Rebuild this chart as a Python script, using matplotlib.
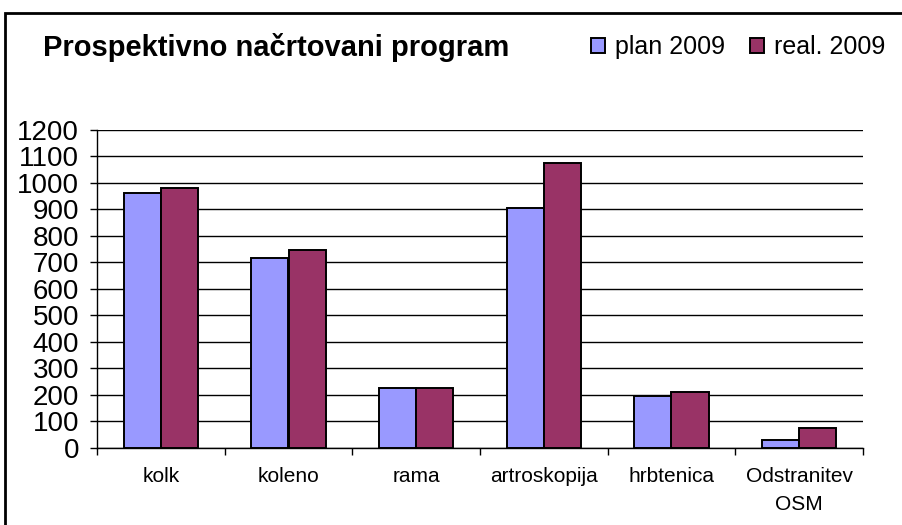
import matplotlib.pyplot as plt
import numpy as np
from matplotlib.patches import Rectangle

# Daten
categories = ["kolk", "koleno", "rama", "artroskopija", "hrbtenica", "Odstranitev\nOSM"]
plan_2009 = [960, 716, 225, 905, 196, 30]
real_2009 = [980, 747, 225, 1072, 210, 74]

plt.rcParams['font.family'] = ['Liberation Sans', 'DejaVu Sans']

fig = plt.figure(figsize=(9.02, 5.25), dpi=100)
ax = fig.add_axes([97 / 902, 1 - 448 / 525, (863 - 97) / 902, (448 - 129.5) / 525])

x = np.arange(len(categories))
w = 0.29
ax.bar(x - w / 2, plan_2009, w, color='#9999FF', edgecolor='black', linewidth=1.4, label="plan 2009", zorder=3)
ax.bar(x + w / 2, real_2009, w, color='#993366', edgecolor='black', linewidth=1.4, label="real. 2009", zorder=3)

ax.set_xlim(-0.5, len(categories) - 0.5)
ax.set_ylim(0, 1200)
ax.set_yticks(range(0, 1201, 100))
ax.yaxis.grid(True, color='black', linewidth=1)
ax.set_axisbelow(True)

# Ticks an den Kategoriegrenzen
ax.set_xticks(np.arange(-0.5, len(categories)), minor=False)
ax.set_xticklabels([])
ax.set_xticks(x, minor=True)
ax.set_xticklabels(categories, minor=True, fontsize=15)
ax.tick_params(axis='x', which='minor', length=0, pad=14)
ax.tick_params(axis='x', which='major', length=5, width=1)
ax.tick_params(axis='y', labelsize=20, length=5, width=1, pad=8)
for lbl in ax.get_xticklabels(minor=True):
    lbl.set_linespacing(1.55)

for s in ['top', 'right']:
    ax.spines[s].set_visible(False)
for s in ['left', 'bottom']:
    ax.spines[s].set_linewidth(1)

fig.text(43 / 902, 1 - 47 / 525, "Prospektivno načrtovani program", fontsize=21, fontweight='bold', va='center')
fig.legend(loc='center left', bbox_to_anchor=(591 / 902, 1 - 47 / 525), ncol=2, frameon=False,
           fontsize=18, handlelength=0.55, handleheight=0.55, handletextpad=0.4, columnspacing=1.0,
           borderpad=0, borderaxespad=0)

# Rahmen
fig.patches.append(Rectangle((5 / 902, -0.1), 1.2, 1 - 13 / 525 + 0.1, transform=fig.transFigure,
                             fill=False, edgecolor='black', linewidth=2))

plt.savefig("out.png", dpi=100)
